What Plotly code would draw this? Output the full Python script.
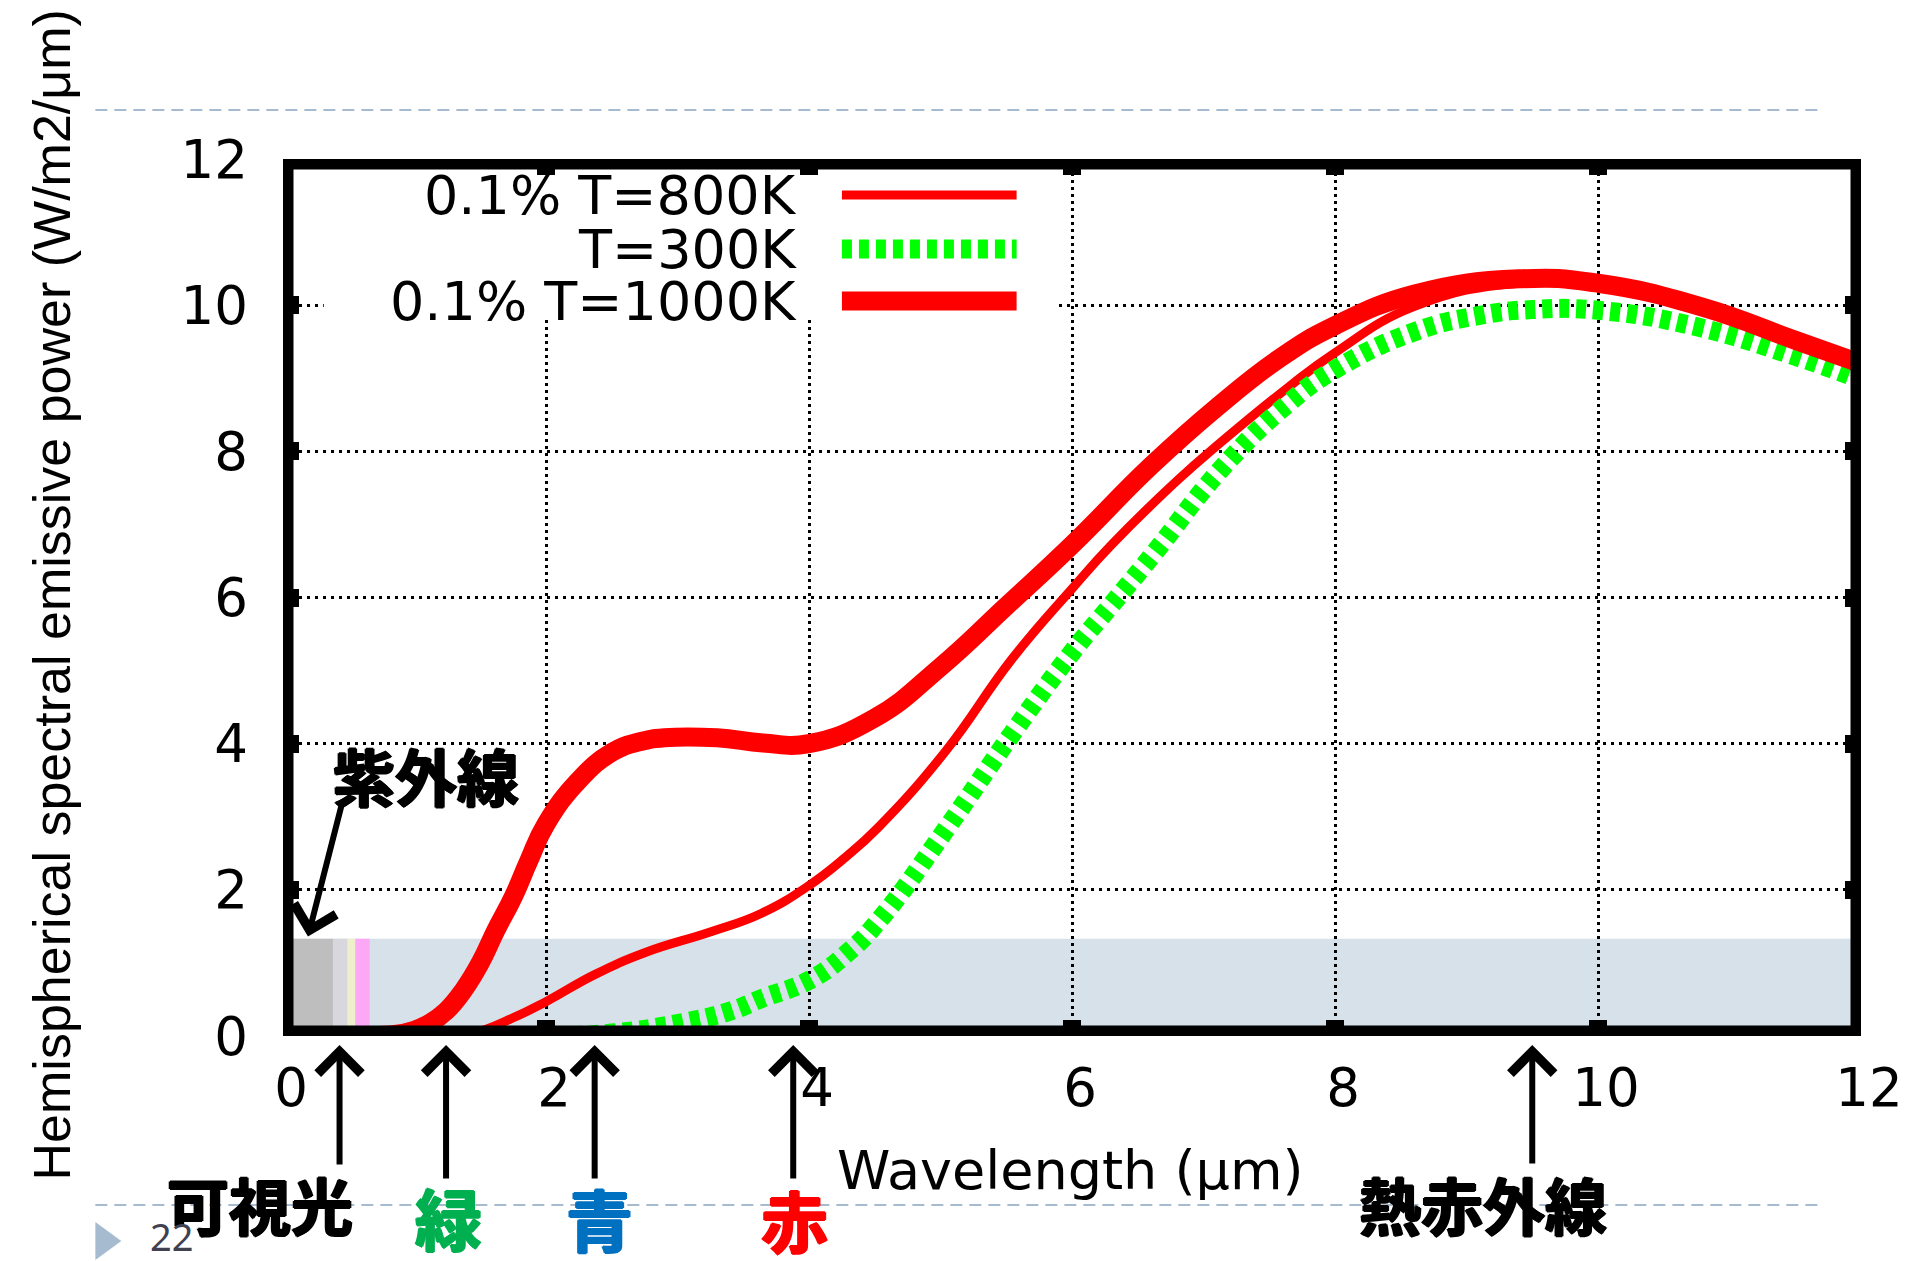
import plotly.graph_objects as go

# ---------------- data ----------------
wl_800 = [0.0, 1.2, 1.45, 1.74, 2.0, 2.37, 2.75, 3.26, 3.64, 4.0, 4.28, 4.53, 5.04, 5.54,
          6.0, 6.3, 6.8, 7.13, 7.64, 8.0, 8.6, 9.4, 10.0, 10.8, 11.5, 12.0]
e_800 = [0.0, 0.0, 0.04, 0.24, 0.47, 0.84, 1.14, 1.43, 1.68, 2.06, 2.45, 2.86, 3.9, 5.15,
         6.12, 6.72, 7.6, 8.12, 8.87, 9.35, 9.98, 10.3, 10.24, 9.92, 9.47, 9.15]

wl_300 = [0.0, 2.0, 2.5, 3.0, 3.4, 3.65, 4.0, 4.3, 4.55, 5.05, 5.55, 6.0, 6.3, 6.63, 7.13,
          7.64, 8.0, 8.61, 9.1, 9.5, 10.0, 10.76, 11.5, 12.0]
e_300 = [0.0, 0.0, 0.04, 0.17, 0.34, 0.52, 0.76, 1.15, 1.62, 2.85, 4.15, 5.25, 5.9, 6.62, 7.75,
         8.65, 9.12, 9.64, 9.86, 9.94, 9.93, 9.7, 9.3, 8.98]

wl_1000 = [0.0, 0.6, 0.85, 1.0, 1.12, 1.24, 1.37, 1.5, 1.62, 1.75, 1.87, 2.0, 2.25, 2.5, 2.7,
           2.9, 3.3, 3.65, 4.0, 4.5, 5.0, 5.5, 6.0, 6.6, 7.1, 7.6, 8.0, 8.6, 9.4, 10.0, 10.8, 11.5, 12.0]
e_1000 = [0.0, 0.0, 0.02, 0.08, 0.18, 0.34, 0.62, 1.0, 1.45, 1.9, 2.4, 2.9, 3.5, 3.88, 4.02,
          4.08, 4.08, 4.01, 4.0, 4.35, 5.05, 5.88, 6.72, 7.8, 8.6, 9.3, 9.72, 10.15, 10.36, 10.3, 9.97, 9.52, 9.2]

series_names = ["0.1% T=800K", "T=300K", "0.1% T=1000K"]

# spectral bands near the origin (UV / visible) and the shaded region
band_start = [0.0, 0.38, 0.49, 0.55]
band_end = [0.38, 0.49, 0.55, 0.66]
band_colors = ["#BEBEBE", "#D7D7DD", "#EFEFCB", "#FDA8F6"]
shade_top = 1.33

tick_vals = [0, 2, 4, 6, 8, 10, 12]
tick_text = ["0", "2", "4", "6", "8", "10", "12"]

marker_x = [0.43, 1.24, 2.37, 3.88, 9.5]
marker_labels = ["可視光", "緑", "青", "赤", "熱赤外線"]
marker_colors = ["#000000", "#00B050", "#0070C0", "#FF0000", "#000000"]

# ---------------- layout helpers (pixel -> paper) ----------------
W, H = 1915, 1261
L, R, T, B = 283, 1864, 159, 1036


def px(x):
    return (x - L) / (R - L)


def py(y):
    return (B - y) / (B - T)


FONT = "DejaVu Sans, Liberation Sans, sans-serif"
TFONT = "Liberation Sans, Arial, Helvetica, sans-serif"
JFONT = "Noto Sans CJK JP, sans-serif"

fig = go.Figure()

fig.add_trace(go.Scatter(x=wl_800, y=e_800, mode="lines", name=series_names[0],
                         line=dict(color="#FF0000", width=9, shape="spline", smoothing=1.3),
                         showlegend=False))
fig.add_trace(go.Scatter(x=wl_300, y=e_300, mode="lines", name=series_names[1],
                         line=dict(color="#00FF00", width=19, dash="10px,7px",
                                   shape="spline", smoothing=1.3),
                         showlegend=False))
fig.add_trace(go.Scatter(x=wl_1000, y=e_1000, mode="lines", name=series_names[2],
                         line=dict(color="#FF0000", width=19, shape="spline", smoothing=1.3),
                         showlegend=False))

shapes = []
# shaded region
shapes.append(dict(type="rect", xref="x", yref="y", x0=0, x1=12, y0=0, y1=shade_top,
                   fillcolor="#D7E1EA", line=dict(width=0), layer="below"))
for s, e, c in zip(band_start, band_end, band_colors):
    shapes.append(dict(type="rect", xref="x", yref="y", x0=s, x1=e, y0=0, y1=shade_top,
                       fillcolor=c, line=dict(width=0), layer="below"))
# legend backdrop (hides grid)
shapes.append(dict(type="rect", xref="x", yref="y", x0=0.31, x1=5.87, y0=9.8, y1=12,
                   fillcolor="white", line=dict(width=0), layer="between"))
# thick frame
shapes.append(dict(type="rect", xref="x", yref="y", x0=0, x1=12, y0=0, y1=12,
                   line=dict(color="black", width=21), fillcolor="rgba(0,0,0,0)", layer="above"))
# legend samples
leg_y = [195, 249, 301]
leg_styles = [dict(color="#FF0000", width=9),
              dict(color="#00FF00", width=19, dash="10px,7px"),
              dict(color="#FF0000", width=19)]
for yy, st in zip(leg_y, leg_styles):
    shapes.append(dict(type="line", xref="paper", yref="paper", x0=px(843), x1=px(1018),
                       y0=py(yy), y1=py(yy), line=st, layer="above"))
# slide decorations
for yy in [110, 1205]:
    shapes.append(dict(type="line", xref="paper", yref="paper", x0=px(95), x1=px(1823),
                       y0=py(yy), y1=py(yy), line=dict(color="#A6BBCF", width=2, dash="12px,7px"),
                       layer="below"))
shapes.append(dict(type="path", xref="paper", yref="paper",
                   path=f"M {px(95)} {py(1222)} L {px(95)} {py(1260)} L {px(121)} {py(1241)} Z",
                   fillcolor="#A6BBCF", line=dict(width=0), layer="below"))

ann = []
for name, yy in zip(series_names, leg_y):
    ann.append(dict(text=name, xref="paper", yref="paper", x=px(800), y=py(yy),
                    xanchor="right", yanchor="middle", showarrow=False,
                    font=dict(family=FONT, size=54, color="black")))
ann.append(dict(text="Hemispherical spectral emissive power (W/m2/μm)", textangle=-90,
                xref="paper", yref="paper", x=px(52), y=py(595), xanchor="center",
                yanchor="middle", showarrow=False, font=dict(family=TFONT, size=52, color="black")))
ann.append(dict(text="Wavelength (μm)", xref="paper", yref="paper", x=px(1072), y=py(1170),
                xanchor="center", yanchor="middle", showarrow=False,
                font=dict(family=FONT, size=54, color="black")))


def heavy(c, s=1.2):
    return f"{s}px 0 0 {c}, -{s}px 0 0 {c}, 0 {s}px 0 {c}, 0 -{s}px 0 {c}"


# UV label and arrow
ann.append(dict(text="<b>紫外線</b>", xref="paper", yref="paper", x=px(426), y=py(775),
                xanchor="center", yanchor="middle", showarrow=False,
                font=dict(family=JFONT, size=62, color="black", shadow=heavy("#000"))))
ann.append(dict(text="", xref="x", yref="y", x=0.19, y=1.36, ax=34, ay=-133,
                showarrow=True, arrowhead=4, arrowsize=1.4, arrowwidth=6, arrowcolor="black"))

label_pos = [(260, 1204, 62), (449, 1216, 67), (600, 1217, 67), (795, 1218, 67), (1485, 1204, 62)]
tail_y = [1166, 1180, 1180, 1180, 1165]
for mx, lab, col, (lx, ly, fs), ty in zip(marker_x, marker_labels, marker_colors, label_pos, tail_y):
    ann.append(dict(text="", xref="x", yref="paper", x=mx, y=py(1045), ax=0, ay=ty - 1045,
                    showarrow=True, arrowhead=4, arrowsize=1.4, arrowwidth=6, arrowcolor="black"))
    ann.append(dict(text=f"<b>{lab}</b>", xref="paper", yref="paper", x=px(lx), y=py(ly),
                    xanchor="center", yanchor="middle", showarrow=False,
                    font=dict(family=JFONT, size=fs, color=col, shadow=heavy(col))))

ann.append(dict(text="22", xref="paper", yref="paper", x=px(171), y=py(1236),
                xanchor="center", yanchor="middle", showarrow=False,
                font=dict(family="Noto Sans, sans-serif", size=38, color="#404050")))

fig.update_layout(
    width=W, height=H,
    margin=dict(l=L, r=W - R, t=T, b=H - B),
    paper_bgcolor="white", plot_bgcolor="white",
    shapes=shapes, annotations=ann, showlegend=False,
    xaxis=dict(range=[0, 12], tickvals=tick_vals, ticktext=tick_text, showgrid=True,
               gridcolor="black", gridwidth=3, griddash="3px,4px", zeroline=False,
               ticks="inside", ticklen=16, tickwidth=18, tickcolor="black", mirror="ticks",
               showline=False, ticklabelstandoff=16, ticklabelshift=8,
               tickfont=dict(family=FONT, size=53, color="black")),
    yaxis=dict(range=[0, 12], tickvals=tick_vals, ticktext=tick_text, showgrid=True,
               gridcolor="black", gridwidth=3, griddash="3px,5px", zeroline=False,
               ticks="inside", ticklen=16, tickwidth=18, tickcolor="black", mirror="ticks",
               showline=False, ticklabelstandoff=34,
               tickfont=dict(family=FONT, size=53, color="black")),
)

fig.write_html("out.html", config={"displayModeBar": False},
               post_script="document.body.style.margin='0';")
